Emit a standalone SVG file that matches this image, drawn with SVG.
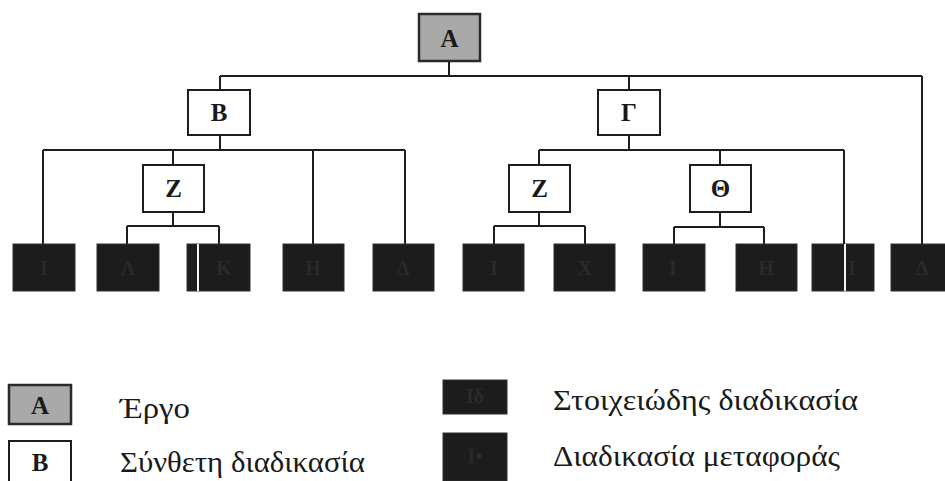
<svg xmlns="http://www.w3.org/2000/svg" width="945" height="481" viewBox="0 0 945 481">
  <style>
    .proj { fill: #a9a9a9; stroke: #2a2a2a; stroke-width: 2.5; }
    .comp { fill: #ffffff; stroke: #1e1e1e; stroke-width: 2; }
    .elem { fill: #1c1c1c; stroke: #2e2e2e; stroke-width: 1; }
    .lbl { font-family: "Liberation Serif", "DejaVu Serif", serif; font-weight: bold; font-size: 25px; fill: #1a1a1a; text-anchor: middle; }
    .dim { font-family: "Liberation Serif", "DejaVu Serif", serif; font-weight: bold; font-size: 20px; fill: #2a2a2a; text-anchor: middle; }
    .leg { font-family: "Liberation Serif", "DejaVu Serif", serif; font-size: 29px; fill: #1a1a1a; }
    .cut { stroke: #f4f4f4; stroke-width: 2; }
    #connectors path { fill: none; stroke: #1e1e1e; stroke-width: 2; }
  </style>

  <!-- connectors -->
  <g id="connectors">
    <path d="M449 61 V76 M220 76 H922 M220 76 V90 M629 76 V90 M922 76 V244"/>
    <path d="M220 135 V150 M43 150 H405 M43 150 V244 M173 150 V165 M313 150 V244 M405 150 V244"/>
    <path d="M173 212 V226 M127 226 H219 M127 226 V244 M219 226 V244"/>
    <path d="M629 135 V150 M539 150 H844 M539 150 V165 M720 150 V165 M844 150 V244"/>
    <path d="M539 212 V226 M494 226 H585 M494 226 V244 M585 226 V244"/>
    <path d="M720 212 V227 M674 227 H764 M674 227 V244 M764 227 V244"/>
  </g>

  <!-- project -->
  <g id="node-A">
    <rect class="proj" x="419" y="14" width="61" height="47"/>
    <text class="lbl" x="449.5" y="47">A</text>
  </g>

  <!-- composite processes -->
  <g id="node-B">
    <rect class="comp" x="188" y="90" width="62" height="45"/>
    <text class="lbl" x="219" y="121">B</text>
  </g>
  <g id="node-G">
    <rect class="comp" x="598" y="90" width="62" height="45"/>
    <text class="lbl" x="629" y="121">Γ</text>
  </g>
  <g id="node-Z1">
    <rect class="comp" x="143" y="165" width="61" height="47"/>
    <text class="lbl" x="173.5" y="197">Z</text>
  </g>
  <g id="node-Z2">
    <rect class="comp" x="509" y="165" width="61" height="47"/>
    <text class="lbl" x="539.5" y="197">Z</text>
  </g>
  <g id="node-Th">
    <rect class="comp" x="690" y="165" width="61" height="47"/>
    <text class="lbl" x="720.5" y="197">Θ</text>
  </g>

  <!-- elementary / transfer processes -->
  <g id="node-e1">
    <rect class="elem" x="13" y="244" width="62" height="47"/>
    <text class="dim" x="44" y="275">I</text>
  </g>
  <g id="node-e2">
    <rect class="elem" x="97" y="244" width="62" height="47"/>
    <text class="dim" x="128" y="275">Λ</text>
  </g>
  <g id="node-e3">
    <rect class="elem" x="187" y="244" width="63" height="47"/>
    <line class="cut" x1="198" y1="244" x2="198" y2="291"/>
    <text class="dim" x="224" y="275">K</text>
  </g>
  <g id="node-e4">
    <rect class="elem" x="283" y="244" width="61" height="47"/>
    <text class="dim" x="313" y="275">H</text>
  </g>
  <g id="node-e5">
    <rect class="elem" x="373" y="244" width="61" height="47"/>
    <text class="dim" x="403" y="275">Δ</text>
  </g>
  <g id="node-e6">
    <rect class="elem" x="463" y="244" width="61" height="47"/>
    <text class="dim" x="494" y="275">I</text>
  </g>
  <g id="node-e7">
    <rect class="elem" x="554" y="244" width="61" height="47"/>
    <text class="dim" x="585" y="275">X</text>
  </g>
  <g id="node-e8">
    <rect class="elem" x="643" y="244" width="62" height="47"/>
    <text class="dim" x="673" y="275">I</text>
  </g>
  <g id="node-e9">
    <rect class="elem" x="736" y="244" width="61" height="47"/>
    <text class="dim" x="766" y="275">H</text>
  </g>
  <g id="node-e10">
    <rect class="elem" x="812" y="244" width="62" height="47"/>
    <line class="cut" x1="845" y1="244" x2="845" y2="291"/>
    <text class="dim" x="852" y="275">I</text>
  </g>
  <g id="node-e11">
    <rect class="elem" x="891" y="244" width="56" height="47"/>
    <text class="dim" x="922" y="275">Δ</text>
  </g>

  <!-- legend -->
  <g id="legend-project">
    <rect class="proj" x="9" y="385" width="62" height="39"/>
    <text class="lbl" x="40" y="414">A</text>
    <text class="leg" x="120" y="418" textLength="70" lengthAdjust="spacingAndGlyphs">Έργο</text>
  </g>
  <g id="legend-composite">
    <path d="M9 483 V441 H71 V483" fill="#ffffff" stroke="#1e1e1e" stroke-width="2"/>
    <text class="lbl" x="40" y="471">B</text>
    <text class="leg" x="120" y="472" textLength="245" lengthAdjust="spacingAndGlyphs">Σύνθετη διαδικασία</text>
  </g>
  <g id="legend-elementary">
    <rect class="elem" x="443" y="380" width="64" height="34"/>
    <text class="dim" x="475" y="403">Iδ</text>
    <text class="leg" x="553" y="410" textLength="305" lengthAdjust="spacingAndGlyphs">Στοιχειώδης διαδικασία</text>
  </g>
  <g id="legend-transfer">
    <rect class="elem" x="443" y="433" width="64" height="48"/>
    <text class="dim" x="475" y="463">I•</text>
    <text class="leg" x="553" y="466" textLength="287" lengthAdjust="spacingAndGlyphs">Διαδικασία μεταφοράς</text>
  </g>
</svg>
